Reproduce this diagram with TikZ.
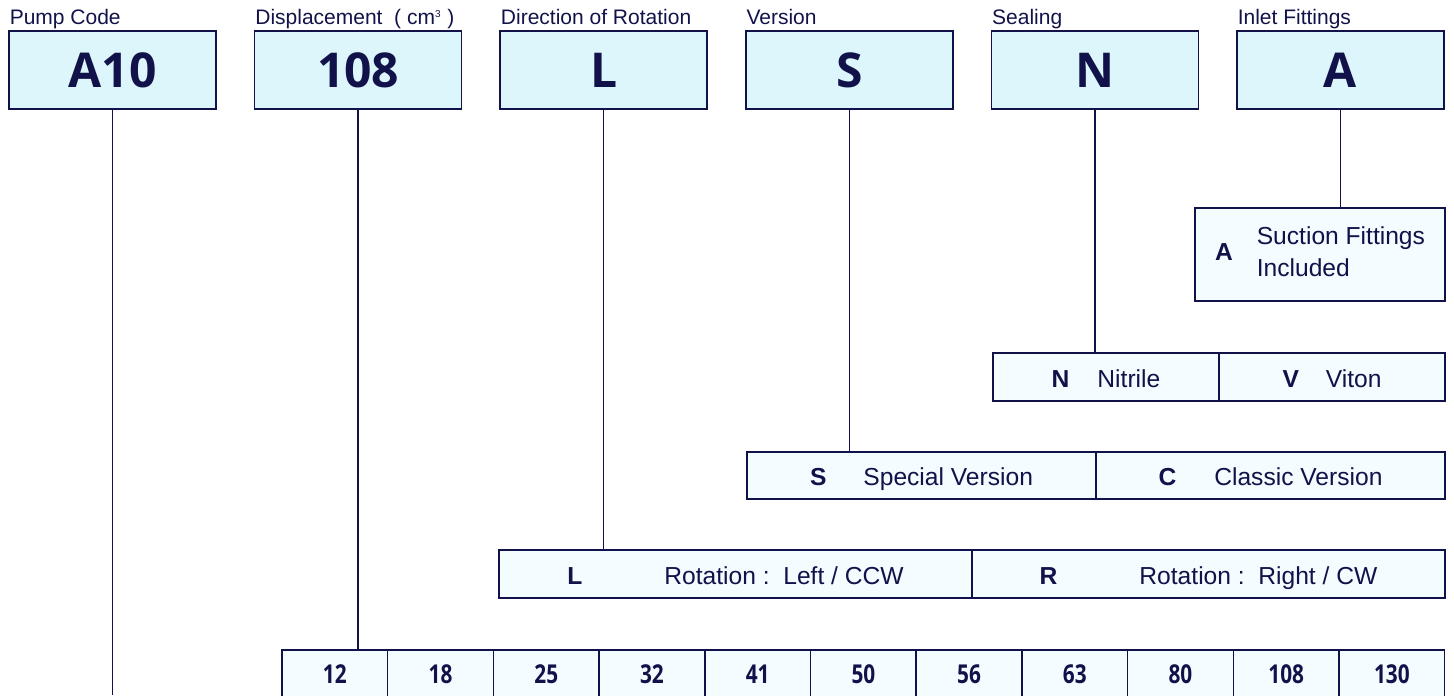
\documentclass[tikz,border=0pt]{standalone}
\usepackage{fontspec}
\usepackage{graphicx}
\setmainfont{Liberation Sans}
\newfontfamily\codefont{Open Sans}
\usetikzlibrary{positioning}

\definecolor{navy}{HTML}{12124A}
\definecolor{topfill}{HTML}{DCF6FB}
\definecolor{cellfill}{HTML}{F3FCFE}
\newcommand{\narrow}[1]{\scalebox{0.8}[1]{#1}}

\begin{document}
\begin{tikzpicture}[x=0.5pt, y=-0.5pt, line width=0.75pt, color=navy,
  codebox/.style={draw=navy, fill=topfill, inner sep=0pt, outer sep=0pt, minimum width=103.5pt, minimum height=39pt, font=\codefont\bfseries\fontsize{24}{28}\selectfont},
  heading/.style={anchor=base west, inner sep=0pt, font=\fontsize{10.5}{12}\selectfont},
  optbox/.style={draw=navy, fill=cellfill, inner sep=0pt, outer sep=0pt, minimum height=24pt, text height=10pt, text depth=0pt, font=\fontsize{12.3}{14}\selectfont},
  notebox/.style={draw=navy, fill=cellfill, inner sep=0pt, outer sep=0pt, font=\fontsize{12.3}{14}\selectfont},
  sizebox/.style={draw=navy, fill=cellfill, inner sep=0pt, outer sep=0pt, minimum width=52.86pt, minimum height=24pt, anchor=north west, font=\codefont\bfseries\fontsize{13}{15}\selectfont}]

\useasboundingbox (0,0) rectangle (1454,695);

% draw code boxes
\node[codebox] (pump) at (112.5, 70) {A10};
\node[codebox, right=19.3pt of pump] (disp) {108};
\node[codebox, right=19.3pt of disp] (dir) {L};
\node[codebox, right=19.3pt of dir] (ver) {S};
\node[codebox, right=19.3pt of ver] (seal) {N};
\node[codebox, right=19.3pt of seal] (inlet) {A};

% draw headings
\node[heading] (pumplbl) at ([yshift=3pt]pump.north west) {Pump Code};
\node[heading] (displbl) at ([yshift=3pt]disp.north west) {Displacement\ \ ( cm\textsuperscript{\tiny 3} )};
\node[heading] (dirlbl) at ([yshift=3pt]dir.north west) {Direction of Rotation};
\node[heading] (verlbl) at ([yshift=3pt]ver.north west) {Version};
\node[heading] (seallbl) at ([yshift=3pt]seal.north west) {Sealing};
\node[heading] (inletlbl) at ([yshift=3pt]inlet.north west) {Inlet Fittings};

% draw option rows
\node[notebox, minimum width=125pt, minimum height=46.5pt] (suction) at (1320, 254.5)
  {\raisebox{-1.8pt}{\textbf{A}\hspace{12pt}\begin{tabular}{@{}l@{}}Suction Fittings\\[2pt] Included\end{tabular}}};

\node[optbox, minimum width=113pt, anchor=north west] (nitrile) at (993, 353) {\textbf{N}\hspace{14pt}Nitrile};
\node[optbox, minimum width=113pt, right=0pt of nitrile] (viton) {\textbf{V}\hspace{13.5pt}Viton};

\node[optbox, minimum width=174.5pt, minimum height=23.5pt, anchor=north west] (special) at (747, 452) {\textbf{S}\hspace{18.5pt}Special Version};
\node[optbox, minimum width=174.5pt, minimum height=23.5pt, right=0pt of special] (classic) {\textbf{C}\hspace{19pt}Classic Version};

\node[optbox, minimum width=236.5pt, anchor=north west] (rotl) at (499, 550) {\textbf{L}\hspace{41pt}Rotation :\ \ Left / CCW};
\node[optbox, minimum width=236.5pt, right=0pt of rotl] (rotr) {\textbf{R}\hspace{41pt}Rotation :\ \ Right / CW};

% draw displacement sizes
\foreach \s [count=\i from 0] in {12,18,25,32,41,50,56,63,80,108,130}
  \node[sizebox] (d\s) at (282+105.7*\i, 650) {\narrow{\s}};

% draw leader lines
\coordinate (pumpend) at (112.5, 695);
\draw (pump.south) -- (pumpend);
\draw (disp.south) -- (disp.south |- d12.north);
\draw (dir.south) -- (dir.south |- rotl.north);
\draw (ver.south) -- (ver.south |- special.north);
\draw (seal.south) -- (seal.south |- nitrile.north);
\draw (inlet.south) -- (inlet.south |- suction.north);

\end{tikzpicture}
\end{document}
